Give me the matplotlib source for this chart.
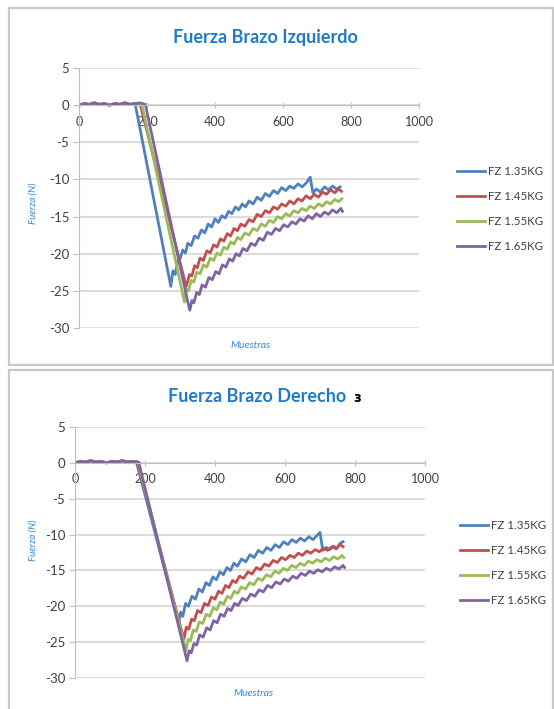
import matplotlib
matplotlib.use('Agg')
import matplotlib.pyplot as plt
from matplotlib.patches import Rectangle

plt.rcParams['font.family'] = ['Lato', 'DejaVu Sans']
plt.rcParams['axes.unicode_minus'] = False

series_names = ['FZ 1.35KG', 'FZ 1.45KG', 'FZ 1.55KG', 'FZ 1.65KG']
series_colors = ['#4F81BD', '#C0504D', '#9BBB59', '#8064A2']
x_ticks = [0, 200, 400, 600, 800, 1000]
y_ticks = [5, 0, -5, -10, -15, -20, -25, -30]

flat_x = [0, 15, 30, 45, 60, 75, 90, 105, 120, 135, 150]
flat_y = [0.0, 0.2, 0.1, 0.3, 0.1, 0.2, 0.0, 0.2, 0.1, 0.3, 0.1]

# ---- Fuerza Brazo Izquierdo ----
izq_135_x = flat_x + [165, 270, 276, 283, 290, 298, 305, 313, 320, 330, 340, 350, 360, 370, 380, 390,
                      400, 410, 420, 430, 440, 450, 460, 470, 480, 490, 500, 512, 524, 536, 548, 560,
                      572, 584, 596, 608, 620, 632, 644, 656, 668, 680, 688, 698, 710, 722, 734, 746,
                      758, 768]
izq_135_y = flat_y + [0.2, -24.4, -22.3, -22.8, -21.0, -20.6, -19.5, -19.9, -18.6, -18.9, -17.6, -17.9,
                      -16.8, -17.2, -16.0, -16.4, -15.3, -15.8, -14.9, -15.2, -14.3, -14.6, -13.7, -14.1,
                      -13.3, -13.7, -12.9, -13.3, -12.4, -12.8, -11.9, -12.3, -11.5, -11.9, -11.1, -11.5,
                      -10.9, -11.2, -10.6, -11.0, -10.5, -9.7, -11.8, -11.3, -11.7, -11.0, -11.4, -10.9,
                      -11.3, -11.0]
izq_145_x = flat_x + [165, 180, 315, 318, 325, 332, 340, 348, 356, 366, 376, 386, 396, 406, 416, 426,
                      436, 446, 456, 466, 476, 488, 500, 512, 524, 536, 548, 560, 572, 584, 596, 608,
                      620, 632, 644, 656, 668, 680, 692, 704, 716, 728, 740, 752, 764, 772]
izq_145_y = flat_y + [0.2, 0.1, -24.4, -24.0, -22.8, -23.0, -21.6, -21.9, -20.6, -20.9, -19.6, -19.9,
                      -18.8, -19.1, -18.0, -18.3, -17.3, -17.6, -16.6, -16.9, -16.0, -16.3, -15.4, -15.7,
                      -14.7, -15.0, -14.2, -14.5, -13.7, -14.0, -13.3, -13.6, -12.9, -13.3, -12.6, -12.9,
                      -12.2, -12.6, -12.0, -12.4, -11.7, -12.0, -11.4, -11.8, -11.3, -11.6]
izq_155_x = flat_x + [165, 185, 310, 316, 322, 330, 338, 346, 356, 366, 376, 386, 396, 406, 416, 426,
                      436, 446, 456, 466, 476, 488, 500, 512, 524, 536, 548, 560, 572, 584, 596, 608,
                      620, 632, 644, 656, 668, 680, 692, 704, 716, 728, 740, 752, 764, 773]
izq_155_y = flat_y + [0.2, 0.1, -26.5, -24.8, -25.0, -23.6, -23.8, -22.5, -22.7, -21.5, -21.8, -20.6,
                      -20.9, -19.9, -20.2, -19.1, -19.4, -18.4, -18.7, -17.8, -18.1, -17.2, -17.5, -16.6,
                      -16.9, -16.0, -16.3, -15.5, -15.8, -15.0, -15.3, -14.6, -14.9, -14.2, -14.5, -13.9,
                      -14.2, -13.6, -13.9, -13.3, -13.6, -13.0, -13.3, -12.7, -13.0, -12.6]
izq_165_x = flat_x + [165, 180, 195, 320, 326, 332, 338, 346, 354, 362, 372, 382, 392, 402, 412, 422,
                      432, 442, 452, 462, 472, 482, 494, 506, 518, 530, 542, 554, 566, 578, 590, 602,
                      614, 626, 638, 650, 662, 674, 686, 698, 710, 722, 734, 746, 758, 770, 775]
izq_165_y = flat_y + [0.2, 0.3, 0.1, -26.5, -27.6, -26.3, -26.6, -25.2, -25.5, -24.2, -24.5, -23.2,
                      -23.5, -22.4, -22.7, -21.5, -21.8, -20.7, -21.0, -20.0, -20.3, -19.3, -19.6, -18.6,
                      -18.9, -17.9, -18.2, -17.1, -17.4, -16.6, -16.9, -16.1, -16.4, -15.7, -16.0, -15.3,
                      -15.6, -14.9, -15.3, -14.6, -15.0, -14.4, -14.7, -14.1, -14.5, -13.9, -14.3]

# ---- Fuerza Brazo Derecho ----
der_135_x = flat_x + [165, 175, 296, 302, 308, 316, 324, 334, 344, 354, 364, 374, 384, 394, 404, 414,
                      424, 434, 444, 454, 464, 476, 488, 500, 512, 524, 536, 548, 560, 572, 584, 596,
                      608, 620, 632, 644, 656, 668, 680, 692, 700, 708, 718, 728, 738, 748, 758, 766]
der_135_y = flat_y + [0.2, 0.2, -22.3, -20.8, -21.4, -19.6, -20.0, -18.6, -19.0, -17.6, -18.0, -16.7,
                      -17.1, -15.9, -16.3, -15.2, -15.6, -14.6, -15.0, -14.0, -14.4, -13.4, -13.8, -12.8,
                      -13.2, -12.2, -12.6, -11.8, -12.2, -11.4, -11.8, -11.0, -11.4, -10.7, -11.1, -10.5,
                      -10.9, -10.3, -10.7, -10.1, -9.7, -12.2, -11.8, -12.1, -11.6, -11.9, -11.2, -11.0]
der_145_x = flat_x + [165, 178, 311, 318, 325, 333, 341, 350, 360, 370, 380, 390, 400, 410, 420, 430,
                      440, 450, 460, 470, 482, 494, 506, 518, 530, 542, 554, 566, 578, 590, 602, 614,
                      626, 638, 650, 662, 674, 686, 698, 710, 722, 734, 746, 758, 766]
der_145_y = flat_y + [0.2, 0.1, -24.6, -22.9, -23.2, -21.8, -22.0, -20.6, -20.9, -19.6, -19.9, -18.7,
                      -19.0, -17.9, -18.2, -17.1, -17.4, -16.4, -16.7, -15.8, -16.1, -15.2, -15.5, -14.6,
                      -14.9, -14.1, -14.4, -13.6, -13.9, -13.2, -13.5, -12.9, -13.2, -12.6, -12.9, -12.3,
                      -12.6, -12.1, -12.4, -11.9, -12.2, -11.7, -12.0, -11.4, -11.7]
der_155_x = flat_x + [165, 180, 317, 323, 330, 338, 346, 355, 365, 375, 385, 395, 405, 415, 425, 435,
                      445, 455, 465, 475, 487, 499, 511, 523, 535, 547, 559, 571, 583, 595, 607, 619,
                      631, 643, 655, 667, 679, 691, 703, 715, 727, 739, 751, 763, 768]
der_155_y = flat_y + [0.2, 0.1, -26.2, -24.6, -24.8, -23.3, -23.5, -22.2, -22.4, -21.1, -21.4, -20.2,
                      -20.5, -19.4, -19.7, -18.6, -18.9, -17.9, -18.2, -17.3, -17.6, -16.7, -17.0, -16.1,
                      -16.4, -15.6, -15.9, -15.1, -15.4, -14.7, -15.0, -14.3, -14.6, -14.0, -14.3, -13.7,
                      -14.0, -13.5, -13.8, -13.3, -13.6, -13.1, -13.4, -12.9, -13.2]
der_165_x = flat_x + [165, 182, 314, 320, 326, 332, 340, 348, 356, 366, 376, 386, 396, 406, 416, 426,
                      436, 446, 456, 466, 478, 490, 502, 514, 526, 538, 550, 562, 574, 586, 598, 610,
                      622, 634, 646, 658, 670, 682, 694, 706, 718, 730, 742, 754, 766, 770]
der_165_y = flat_y + [0.2, 0.1, -26.4, -27.6, -26.2, -26.5, -25.2, -25.4, -24.0, -24.3, -23.0, -23.3,
                      -22.0, -22.3, -21.1, -21.4, -20.3, -20.6, -19.6, -19.9, -18.9, -19.2, -18.3, -18.6,
                      -17.7, -18.0, -17.1, -17.4, -16.6, -16.9, -16.2, -16.5, -15.8, -16.1, -15.4, -15.7,
                      -15.1, -15.4, -14.9, -15.2, -14.7, -15.0, -14.5, -14.8, -14.3, -14.6]

W, H = 554, 709
fig = plt.figure(figsize=(W / 100, H / 100), dpi=100)
title_blue = '#1F7BC9'
axis_blue = '#2E8BD8'
grid_gray = '#D9D9D9'
text_gray = '#404040'


def px_box(left, top, right, bottom):
    # pixel box -> figure fraction [l, b, w, h]
    return [left / W, 1 - bottom / H, (right - left) / W, (bottom - top) / H]


def draw_panel(box, xs, ys, title, frame, title_xy, xlabel_xy, ylabel_xy, legend_xy):
    fr = px_box(*frame)
    fig.add_artist(Rectangle((fr[0], fr[1]), fr[2], fr[3], transform=fig.transFigure,
                             fill=False, edgecolor='#C8C8C8', lw=1.6, clip_on=False))
    ax = fig.add_axes(px_box(*box))
    for x, y, c, n in zip(xs, ys, series_colors, series_names):
        ax.plot(x, y, color=c, lw=2.0, label=n, solid_joinstyle='round')
    ax.set_xlim(0, 1000)
    ax.set_ylim(-30, 5)
    ax.set_xticks(x_ticks)
    ax.set_yticks(y_ticks)
    ax.grid(axis='y', color=grid_gray, lw=1.3)
    ax.set_axisbelow(True)
    for s in ['top', 'right']:
        ax.spines[s].set_visible(False)
    ax.spines['left'].set_color('#BFBFBF')
    ax.spines['bottom'].set_color('#BFBFBF')
    ax.spines['bottom'].set_position(('data', 0))
    ax.tick_params(axis='x', direction='inout', length=5, color='#BFBFBF', labelsize=9,
                   labelcolor=text_gray, pad=5)
    ax.tick_params(axis='y', direction='out', length=4, color='#BFBFBF', labelsize=9.5,
                   labelcolor=text_gray, pad=3)
    fig.text(title_xy[0] / W, 1 - title_xy[1] / H, title, ha='center', va='center',
             fontsize=13, fontweight='bold', color=title_blue)
    fig.text(xlabel_xy[0] / W, 1 - xlabel_xy[1] / H, 'Muestras', ha='center', va='center',
             fontsize=7.5, style='italic', color=axis_blue)
    fig.text(ylabel_xy[0] / W, 1 - ylabel_xy[1] / H, 'Fuerza (N)', ha='center', va='center',
             fontsize=7, style='italic', color=axis_blue, rotation=90)
    leg = ax.legend(loc='center left', bbox_to_anchor=(legend_xy[0] / W, 1 - legend_xy[1] / H),
                    bbox_transform=fig.transFigure, frameon=False, fontsize=8.3,
                    handlelength=2.4, handletextpad=0.25, labelspacing=1.22, borderpad=0,
                    borderaxespad=0)
    for t in leg.get_texts():
        t.set_color(text_gray)
    return ax


draw_panel((79, 68, 419, 328),
           [izq_135_x, izq_145_x, izq_155_x, izq_165_x],
           [izq_135_y, izq_145_y, izq_155_y, izq_165_y],
           'Fuerza Brazo Izquierdo', (9, 8, 553, 365),
           (265, 37), (251, 345), (33, 203), (457, 209))

draw_panel((75, 427, 425, 678),
           [der_135_x, der_145_x, der_155_x, der_165_x],
           [der_135_y, der_145_y, der_155_y, der_165_y],
           'Fuerza Brazo Derecho', (9, 370, 553, 715),
           (257, 397), (254, 694), (33, 540), (460, 563))

# small stray mark next to the second title
fig.text(357 / W, 1 - 398 / H, '\u025c', ha='center', va='center', fontsize=10,
         fontweight='bold', color='black', family=['DejaVu Sans'])

fig.savefig('out.png', dpi=100)
